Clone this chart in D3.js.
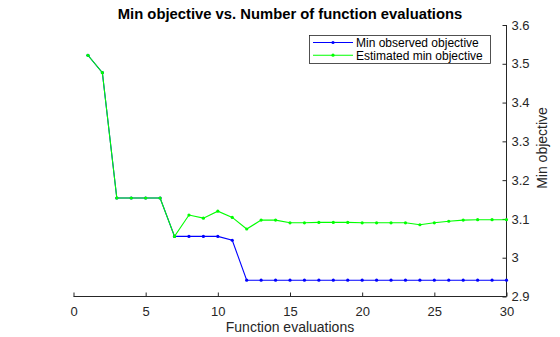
<!DOCTYPE html>
<html><head><meta charset="utf-8">
<script src="https://cdn.jsdelivr.net/npm/d3@7"></script>
<style>body{margin:0;background:#fff}svg{display:block;font-family:"Liberation Sans",Arial,Helvetica,sans-serif}</style>
</head><body>
<script>
const evals = d3.range(1, 31);
const minObserved = [3.522,3.477,3.154,3.154,3.154,3.154,3.055,3.055,3.055,3.055,3.045,2.942,2.942,2.942,2.942,2.942,2.942,2.942,2.942,2.942,2.942,2.942,2.942,2.942,2.942,2.942,2.942,2.942,2.942,2.942];
const estMin = [3.522,3.477,3.154,3.154,3.154,3.154,3.055,3.110,3.102,3.120,3.104,3.074,3.097,3.097,3.090,3.090,3.091,3.091,3.091,3.090,3.090,3.090,3.090,3.085,3.090,3.094,3.097,3.098,3.098,3.098];
const xTicks = [0,5,10,15,20,25,30];
const yTicks = [2.9,3.0,3.1,3.2,3.3,3.4,3.5,3.6];
const seriesNames = ["Min observed objective","Estimated min objective"];
const seriesColors = ["#0000ff","#00ff00"];

const W=560,H=337;
const svg=d3.select("body").append("svg").attr("width",W).attr("height",H);
const x=d3.scaleLinear().domain([0,30]).range([73.5,506.5]);
const y=d3.scaleLinear().domain([2.9,3.6]).range([296.5,25]);

// bottom axis, ticks inward
const gx=svg.append("g").attr("transform","translate(0,296.5)")
  .call(d3.axisBottom(x).tickValues(xTicks).tickSize(-4).tickPadding(10).tickFormat(d3.format("d")));
gx.select(".domain").attr("d","M73.5,0H506.5").attr("stroke","#262626");
gx.selectAll(".tick line").attr("stroke","#262626");
gx.selectAll("text").attr("font-size",13).attr("fill","#262626").attr("font-family","Liberation Sans, Arial, sans-serif");

// right axis
const gy=svg.append("g").attr("transform","translate(506.5,0)")
  .call(d3.axisRight(y).tickValues(yTicks).tickSize(-4).tickPadding(5).tickFormat(d=>d3.format("")(+d.toFixed(1))));
gy.select(".domain").attr("d","M0,296.5V25").attr("stroke","#262626");
gy.selectAll(".tick line").attr("stroke","#262626");
gy.selectAll("text").attr("font-size",13).attr("fill","#262626").attr("font-family","Liberation Sans, Arial, sans-serif");

const data=[minObserved,estMin];
const line=d3.line().x((d,i)=>x(evals[i])).y(d=>y(d));
[0,1].forEach(k=>{
  svg.append("path").attr("d",line(data[k])).attr("fill","none").attr("stroke",seriesColors[k]).attr("stroke-width",1.1);
  svg.append("g").selectAll("circle").data(data[k]).join("circle")
    .attr("cx",(d,i)=>x(evals[i])).attr("cy",d=>y(d)).attr("r",1.6).attr("fill",seriesColors[k]);
});

// title
svg.append("text").attr("x",290).attr("y",19).attr("text-anchor","middle")
  .attr("font-size",14.8).attr("font-weight","bold").attr("fill","#000").text("Min objective vs. Number of function evaluations");
svg.append("text").attr("x",290).attr("y",332).attr("text-anchor","middle")
  .attr("font-size",14).attr("fill","#262626").text("Function evaluations");
svg.append("text").attr("transform","translate(547,148) rotate(-90)").attr("text-anchor","middle")
  .attr("font-size",14).attr("fill","#262626").text("Min objective");

// legend
const lg=svg.append("g");
lg.append("rect").attr("x",309.5).attr("y",35.5).attr("width",181).attr("height",28).attr("fill","#fff").attr("stroke","#262626").attr("stroke-width",0.8);
seriesNames.forEach((n,i)=>{
  const yy=42.5+i*12.7;
  lg.append("line").attr("x1",313).attr("x2",353).attr("y1",yy).attr("y2",yy).attr("stroke",seriesColors[i]).attr("stroke-width",1.1);
  lg.append("circle").attr("cx",333).attr("cy",yy).attr("r",1.6).attr("fill",seriesColors[i]);
  lg.append("text").attr("x",356).attr("y",yy+4.3).attr("font-size",12).attr("fill","#000").text(n);
});
</script>
</body></html>
